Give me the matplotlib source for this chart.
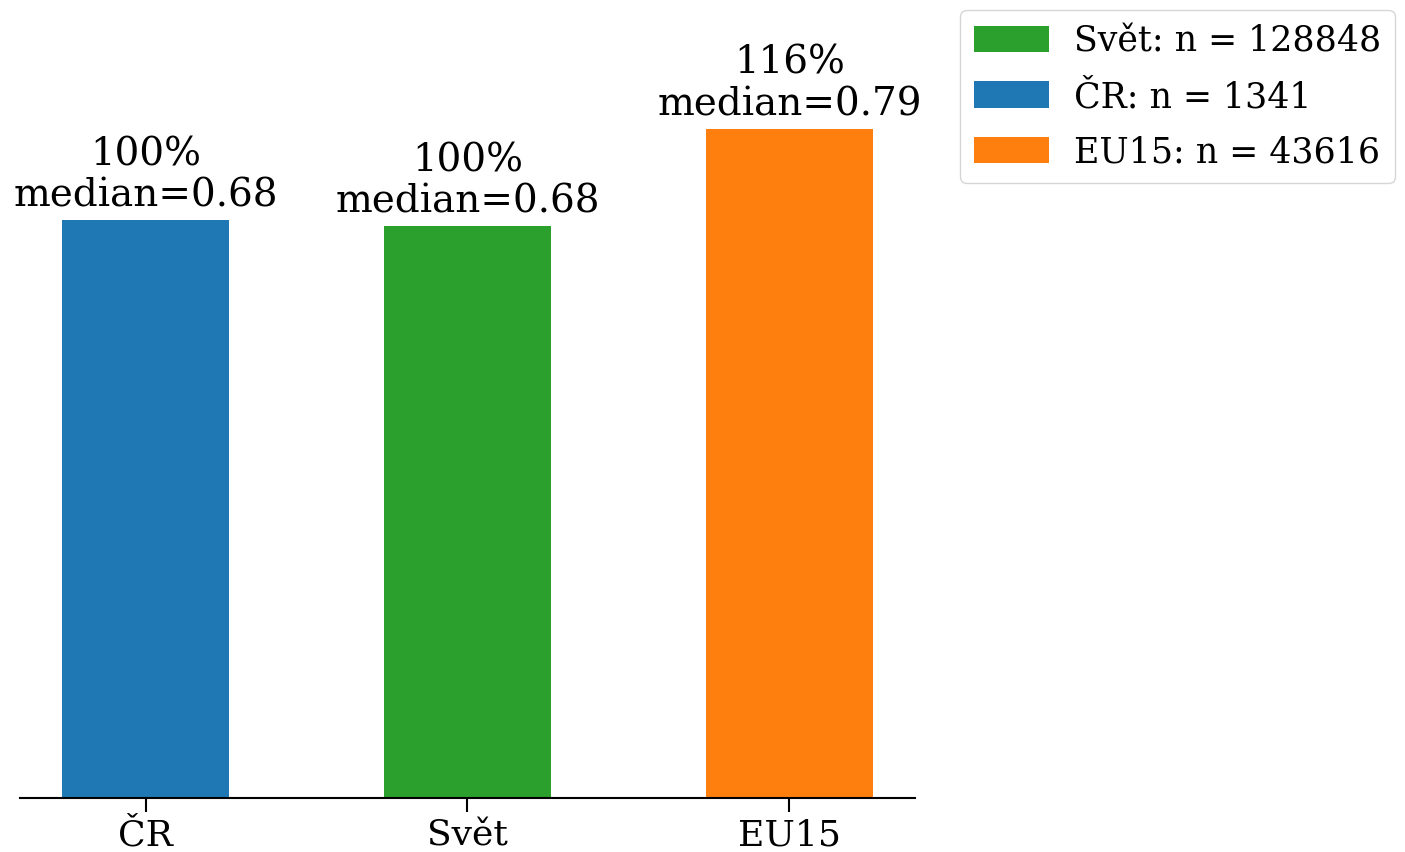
import matplotlib
matplotlib.use("Agg")
import matplotlib.pyplot as plt

categories = ["ČR", "Svět", "EU15"]
medians = [0.683, 0.676, 0.791]
percent_labels = ["100%", "100%", "116%"]
median_labels = ["0.68", "0.68", "0.79"]
colors = ["#1f77b4", "#2ca02c", "#ff7f0e"]
legend_order = ["Svět", "ČR", "EU15"]
legend_n = {"Svět": 128848, "ČR": 1341, "EU15": 43616}

plt.rcParams["font.family"] = ["DejaVu Serif", "DejaVu Sans"]

fig = plt.figure(figsize=(14.05, 8.53), dpi=100)
ax = fig.add_axes([20/1405, 1-799/853, (915-20)/1405, (799-97)/853])

x = list(range(len(categories)))
bars = ax.bar(x, medians, width=0.52, color=colors)
for xi, m, p, ml in zip(x, medians, percent_labels, median_labels):
    ax.text(xi, m + 0.008, f"{p}\nmedian={ml}", ha="center", va="bottom",
            fontsize=28, clip_on=False, linespacing=1.15)

ax.set_xlim(-0.39, 2.39)
ax.set_ylim(0, 0.83)
ax.set_xticks(x)
ax.set_xticklabels(categories, fontsize=26)
ax.set_yticks([])
for s in ["left", "right", "top"]:
    ax.spines[s].set_visible(False)
ax.spines["bottom"].set_linewidth(1.5)
ax.tick_params(axis="x", length=10, width=1.5, pad=4)

handles = [bars[categories.index(c)] for c in legend_order]
labels = [f"{c}: n = {legend_n[c]}" for c in legend_order]
fig.legend(handles, labels, loc="upper left", bbox_to_anchor=(960/1405, 1-11/853),
           fontsize=25, frameon=True, handlelength=2.15, handleheight=0.8,
           handletextpad=0.72, borderaxespad=0, labelspacing=0.62, fancybox=True,
           borderpad=0.4)

fig.savefig("out.png", dpi=100)
